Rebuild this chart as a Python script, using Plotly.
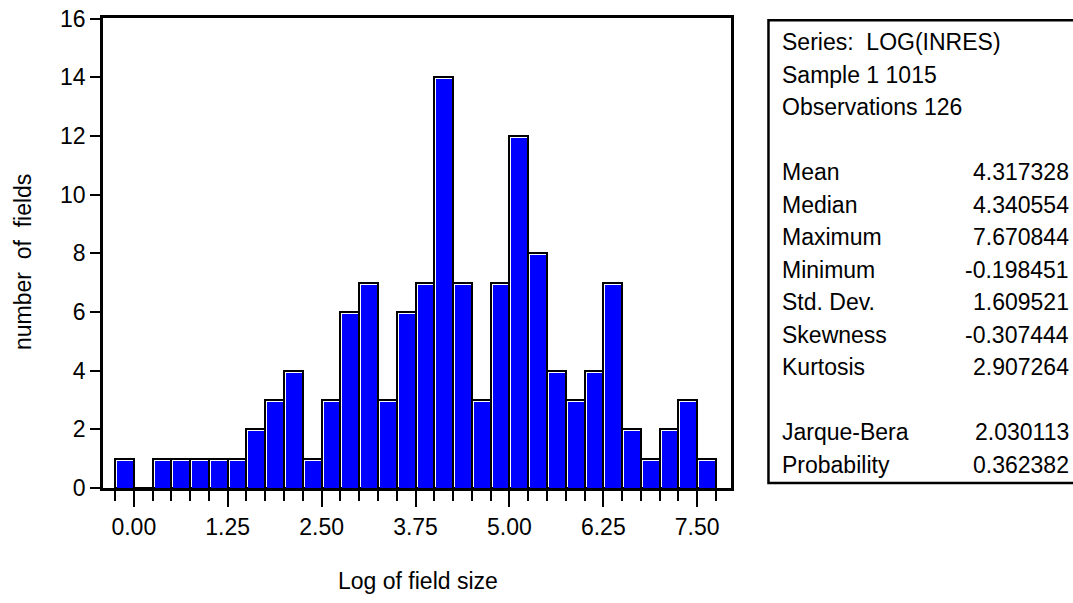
import numpy as np
import plotly.graph_objects as go

# Histogram of log field size: 32 bins of width 0.25 starting at -0.25
BIN_START = -0.25
BIN_WIDTH = 0.25
COUNTS = [1, 0, 1, 1, 1, 1, 1, 2, 3, 4, 1, 3, 6, 7, 3, 6,
          7, 14, 7, 3, 7, 12, 8, 4, 3, 4, 7, 2, 1, 2, 3, 1]

X_TICKS = [0.00, 1.25, 2.50, 3.75, 5.00, 6.25, 7.50]
Y_TICKS = [0, 2, 4, 6, 8, 10, 12, 14, 16]

STAT_HEADER = ["Series:\u00a0 LOG(INRES)", "Sample 1 1015", "Observations 126"]
STAT_NAMES = ["Mean", "Median", "Maximum", "Minimum", "Std. Dev.",
              "Skewness", "Kurtosis"]
STAT_VALUES = ["4.317328", "4.340554", "7.670844", "-0.198451", "1.609521",
               "-0.307444", "2.907264"]
TEST_NAMES = ["Jarque-Bera", "Probability"]
TEST_VALUES = ["2.030113", "0.362382"]

X_TITLE = "Log of field size"
Y_TITLE = "number\u00a0 of\u00a0 fields"

# ---- page / plot geometry (pixels) ----
W, H = 1073, 603
PL, PR, PT, PB = 103, 731.5, 18, 488
X_RANGE = [-0.41, 7.95]
Y_RANGE = [0, 16.02]
FONT = "Liberation Sans, Arial, sans-serif"
FS = 23

dx = (X_RANGE[1] - X_RANGE[0]) / (PR - PL)   # data units per px
dy = (Y_RANGE[1] - Y_RANGE[0]) / (PB - PT)


def px_x(px):
    return (px - PL) / (PR - PL)


def px_y(py):
    return (PB - py) / (PB - PT)


counts = np.array(COUNTS, dtype=float)
n_bins = len(COUNTS)
edges = BIN_START + BIN_WIDTH * np.arange(n_bins + 1)
centers = edges[:-1] + BIN_WIDTH / 2

fig = go.Figure()

# outlined bar body (white shows as a highlight on top/left)
fig.add_trace(go.Bar(
    x=centers, y=counts, width=BIN_WIDTH,
    marker=dict(color="white", line=dict(color="black", width=2)),
    hoverinfo="skip", showlegend=False,
))
# blue face inset from the outline
fig.add_trace(go.Bar(
    x=centers + 0.5 * dx, y=np.maximum(counts - 2 * dy, 0),
    width=BIN_WIDTH - 3 * dx,
    marker=dict(color="#0000FF", line=dict(width=0)),
    hoverinfo="skip", showlegend=False,
))

annotations = []

# axis titles
annotations.append(dict(
    x=px_x(418), y=px_y(581), xref="paper", yref="paper",
    text=X_TITLE, showarrow=False, xanchor="center", yanchor="middle",
    font=dict(family=FONT, size=FS, color="black"),
))
annotations.append(dict(
    x=px_x(23), y=px_y(262), xref="paper", yref="paper",
    text=Y_TITLE, textangle=-90, showarrow=False,
    xanchor="center", yanchor="middle",
    font=dict(family=FONT, size=FS, color="black"),
))

# statistics panel
LINE0, LINE_STEP = 42, 32.5
TEXT_L, TEXT_R = 780.5, 1072

rows = [(t, None) for t in STAT_HEADER] + [("", None)]
rows += list(zip(STAT_NAMES, STAT_VALUES)) + [("", None)]
rows += list(zip(TEST_NAMES, TEST_VALUES))

for i, (name, val) in enumerate(rows):
    yc = LINE0 + LINE_STEP * i
    if name:
        annotations.append(dict(
            x=px_x(TEXT_L), y=px_y(yc), xref="paper", yref="paper",
            text=name, showarrow=False, xanchor="left", yanchor="middle",
            font=dict(family=FONT, size=FS, color="black"),
        ))
    if val is not None:
        annotations.append(dict(
            x=px_x(TEXT_R), y=px_y(yc), xref="paper", yref="paper",
            text=val, showarrow=False, xanchor="right", yanchor="middle",
            font=dict(family=FONT, size=FS, color="black"),
        ))

shapes = [dict(
    type="rect", xref="paper", yref="paper",
    x0=px_x(769), x1=px_x(1085), y0=px_y(483), y1=px_y(20.3),
    line=dict(color="black", width=2.5), fillcolor="rgba(0,0,0,0)",
)]

fig.update_layout(
    width=W, height=H,
    margin=dict(l=PL, r=W - PR, t=PT, b=H - PB, pad=0, autoexpand=False),
    paper_bgcolor="white", plot_bgcolor="white",
    barmode="overlay", bargap=0,
    showlegend=False,
    font=dict(family=FONT, size=FS, color="black"),
    annotations=annotations,
    shapes=shapes,
    xaxis=dict(
        range=X_RANGE, showgrid=False, zeroline=False, automargin=False,
        showline=True, linecolor="black", linewidth=3, mirror=True,
        tickmode="array", tickvals=X_TICKS,
        ticktext=[f"{v:.2f}" for v in X_TICKS],
        ticks="outside", ticklen=16, tickwidth=2, tickcolor="black",
        minor=dict(tickmode="array", tickvals=list(edges), ticks="outside",
                   ticklen=10, tickwidth=2, tickcolor="black", showgrid=False),
        tickfont=dict(family=FONT, size=FS, color="black"),
    ),
    yaxis=dict(
        range=Y_RANGE, showgrid=False, zeroline=False, automargin=False,
        showline=True, linecolor="black", linewidth=2.5, mirror=True,
        tickmode="array", tickvals=Y_TICKS,
        ticks="outside", ticklen=10, tickwidth=2, tickcolor="black",
        tickfont=dict(family=FONT, size=FS, color="black"),
    ),
)

fig.write_html("out.html")
